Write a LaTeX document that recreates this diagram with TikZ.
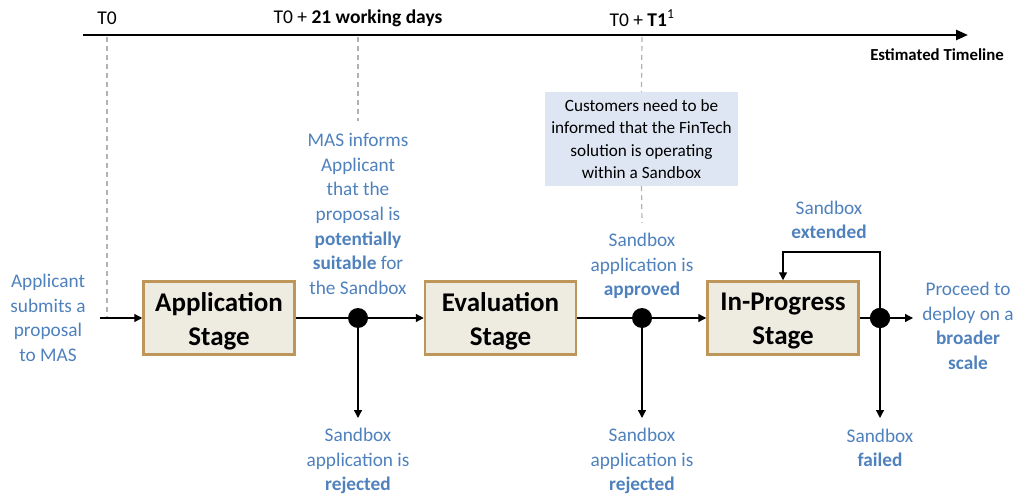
\documentclass[tikz,border=0pt]{standalone}
\usepackage{fontspec}
\setmainfont{Carlito}
\usetikzlibrary{arrows.meta}
\definecolor{txtblue}{RGB}{79,129,189}
\definecolor{stagefill}{RGB}{238,236,225}
\definecolor{stagedraw}{RGB}{190,150,90}
\definecolor{callfill}{RGB}{221,230,242}
\tikzset{
  stagebox/.style={draw=stagedraw, line width=2.5pt, fill=stagefill, minimum width=151pt, minimum height=73pt, align=center, inner sep=0pt, font=\fontsize{27}{34}\selectfont\bfseries},
  dotnode/.style={circle, fill=black, minimum size=20pt, inner sep=0pt},
  flow/.style={line width=1.3pt, draw=black},
  arr/.style={flow, -{Triangle[length=8pt,width=8pt]}},
  tlarrow/.style={line width=2.5pt, -{Triangle[length=12pt,width=10pt]}},
  dashline/.style={draw=gray!60, line width=1.2pt, dash pattern=on 5pt off 4pt},
  bluetxt/.style={text=txtblue, align=center, inner sep=0pt, font=\fontsize{19.3}{24.6}\selectfont},
  tltext/.style={inner sep=0pt, font=\fontsize{19.5}{22}\selectfont},
  callout/.style={fill=callfill, minimum width=193pt, minimum height=94pt, align=center, inner sep=0pt, font=\fontsize{17.2}{22.3}\selectfont}
}
\begin{document}
\begin{tikzpicture}[x=1pt,y=-1pt]
\useasboundingbox (0,0) rectangle (1019,494);
% timeline
\coordinate (tl0) at (83,35);
\coordinate (tl1) at (968,35);
\draw[tlarrow] (tl0) -- (tl1);
\node[tltext] (t0) at (107,18) {T0};
\node[tltext] (t21) at (358,18) {T0 + \textbf{21 working days}};
\node[tltext] (t1) at (642,18) {T0 + \textbf{T1}\textsuperscript{1}};
\node[tltext, anchor=east, font=\fontsize{16.8}{20}\selectfont\bfseries] (est) at (1004,55) {Estimated Timeline};
% stages
\node[stagebox] (app) at (219,318) {};
\node[stagebox] (eval) at (500.5,318) {};
\node[stagebox] (prog) at (783,318) {};
\node[stagebox, draw=none, fill=none] (appl) at (219,321) {Application\\Stage};
\node[stagebox, draw=none, fill=none] (evall) at (500.5,321) {Evaluation\\Stage};
\node[stagebox, draw=none, fill=none] (progl) at (783,321) {In-Progress\\Stage};
% dots
\node[dotnode] (d1) at (358,318) {};
\node[dotnode] (d2) at (642,318) {};
\node[dotnode] (d3) at (880,318) {};
% coordinates
\coordinate (start) at (100,318);
\coordinate (r1) at (358,418);
\coordinate (r2) at (642,418);
\coordinate (f3) at (880,418);
\coordinate (pe) at (913,318);
\coordinate (lp) at (880,252);
% dashed guides
\coordinate (g0a) at (107,37);
\coordinate (g0b) at (107,318);
\coordinate (g1a) at (358,37);
\coordinate (g1b) at (358,121);
\coordinate (g2a) at (642,37);
\coordinate (g2b) at (642,223);
% callout
\node[callout] (cust) at (641.5,139) {Customers need to be\\informed that the FinTech\\solution is operating\\within a Sandbox};
\draw[dashline] (g0a) -- (g0b);
\draw[dashline] (g1a) -- (g1b);
\draw[dashline] (g2a) -- (cust.north);
\draw[dashline] (cust.south) -- (g2b);
% flow
\draw[arr] (start) -- (app);
\draw[flow] (app) -- (d1);
\draw[arr] (d1) -- (eval);
\draw[flow] (eval) -- (d2);
\draw[arr] (d2) -- (prog);
\draw[flow] (prog) -- (d3);
\draw[arr] (d3) -- (pe);
\draw[arr] (d1) -- (r1);
\draw[arr] (d2) -- (r2);
\draw[arr] (d3) -- (f3);
\draw[arr] (d3.center) -- (lp) -| (prog.north);
\node[dotnode] at (d3) {};
% blue texts
\node[bluetxt] (ltxt) at (48,318) {Applicant\\submits a\\proposal\\to MAS};
\node[bluetxt] (mtxt) at (358,214) {MAS informs\\Applicant\\that the\\proposal is\\\textbf{potentially}\\\textbf{suitable} for\\the Sandbox};
\node[bluetxt] (atxt) at (642,266) {Sandbox\\application is\\\textbf{approved}};
\node[bluetxt] (etxt) at (829,220) {Sandbox\\\textbf{extended}};
\node[bluetxt] (ptxt) at (968,326) {Proceed to\\deploy on a\\\textbf{broader}\\\textbf{scale}};
\node[bluetxt] (rj1) at (358,461) {Sandbox\\application is\\\textbf{rejected}};
\node[bluetxt] (rj2) at (642,461) {Sandbox\\application is\\\textbf{rejected}};
\node[bluetxt] (ftxt) at (880,448) {Sandbox\\\textbf{failed}};
\end{tikzpicture}
\end{document}
